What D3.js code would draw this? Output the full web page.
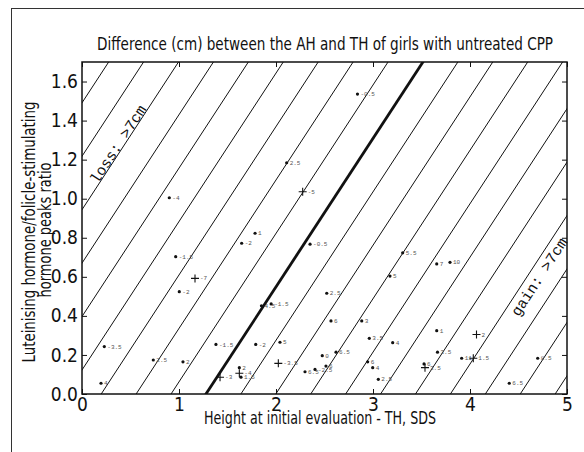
<!DOCTYPE html>
<html>
<head>
<meta charset="utf-8">
<script src="https://cdn.jsdelivr.net/npm/d3@7"></script>
<style>
  body { margin: 0; background: #fff; }
  svg { display: block; }
  .narrow { font-family: 'Liberation Sans Narrow', 'DejaVu Sans', sans-serif; font-stretch: condensed; }
</style>
</head>
<body>
<svg id="chart"></svg>
<script>
// data
let heightSDS = [0.90, 2.11, 2.275, 2.84, 1.784, 1.646, 2.351, 0.966, 1.165, 1.003,
  1.85, 1.95, 2.523, 0.23, 0.735, 1.041, 1.381, 1.791, 2.041, 2.024,
  1.622, 1.622, 1.639, 1.423, 0.196, 2.477, 2.619, 2.299, 2.402, 2.515,
  3.306, 3.657, 3.794, 3.175, 2.567, 2.884, 3.657, 4.067, 2.962, 3.203,
  2.945, 2.997, 3.665, 3.914, 4.034, 4.698, 3.526, 3.536, 3.055, 4.405]
let lhRatio = [1.005, 1.184, 1.036, 1.536, 0.823, 0.772, 0.767, 0.703, 0.592, 0.524,
  0.452, 0.461, 0.516, 0.243, 0.174, 0.165, 0.254, 0.254, 0.265, 0.157,
  0.135, 0.106, 0.086, 0.086, 0.055, 0.196, 0.214, 0.114, 0.126, 0.143,
  0.723, 0.666, 0.674, 0.604, 0.374, 0.374, 0.324, 0.305, 0.285, 0.263,
  0.165, 0.135, 0.214, 0.183, 0.183, 0.183, 0.154, 0.135, 0.075, 0.055]
let diffCm = ['-4', '2.5', '-5', '-0.5', '1', '-2', '-0.5', '-1.5', '-7', '-2',
  '4.5', '-1.5', '2.5', '-3.5', '2.5', '2', '-1.5', '-2', '5', '-3.5',
  '2', '-4', '1.5', '-3', '4', '0', '6.5', '6.5', '-2.5', '6',
  '5.5', '7', '10', '5', '6', '3', '1', '2', '3.5', '4',
  '6', '4', '3.5', '11', '1.5', '8.5', '6', '3.5', '2.5', '6.5']
// '+' marks, everything else is a dot
let crossIdx = [2, 8, 19, 21, 23, 37, 44, 47]

// contour lines of equal AH-TH difference (cm), 0 is the bold one
let contourCm = [-9, -8, -7, -6, -5, -4, -3, -2, -1, 0, 1, 2, 3, 4, 5, 6, 7, 8, 9, 10]
let zeroAt = 1.278   // x where the 0 cm line meets ratio 0
let stepPerCm = 0.36 // x shift between neighbouring lines
let slope = 0.76     // ratio per SDS

let xTicks = [0, 1, 2, 3, 4, 5]
let yTicks = [0, 0.2, 0.4, 0.6, 0.8, 1.0, 1.2, 1.4, 1.6]

let W = 584, H = 452
let svg = d3.select('#chart').attr('width', W).attr('height', H)

// outer figure border
svg.append('rect')
  .attr('x', 11.5).attr('y', 8.5).attr('width', 640).attr('height', 640)
  .attr('fill', 'none').attr('stroke', '#333').attr('stroke-width', 1)

let x = d3.scaleLinear().domain([0, 5]).range([82, 567])
let y = d3.scaleLinear().domain([0, 1.7]).range([394, 62])

svg.append('clipPath').attr('id', 'plot-clip')
  .append('rect')
  .attr('x', x(0)).attr('y', y(1.7))
  .attr('width', x(5) - x(0)).attr('height', y(0) - y(1.7))

// diagonal lines
let lines = svg.append('g').attr('clip-path', 'url(#plot-clip)')
lines.selectAll('line')
  .data(contourCm)
  .enter()
  .append('line')
  .attr('x1', d => x(zeroAt + stepPerCm * d - 0.2 / slope))
  .attr('y1', y(-0.2))
  .attr('x2', d => x(zeroAt + stepPerCm * d + 1.9 / slope))
  .attr('y2', y(1.9))
  .attr('stroke', '#111')
  .attr('stroke-width', d => d === 0 ? 2.8 : 1)

// rotated region labels
let angle = -Math.atan2(y(0) - y(slope), x(1) - x(0)) * 180 / Math.PI
let regionLabels = [
  { t: 'loss: >7cm', px: 0.37, py: 1.28 },
  { t: 'gain: >7cm', px: 4.71, py: 0.60 },
]
svg.selectAll('.region')
  .data(regionLabels)
  .enter()
  .append('text')
  .attr('class', 'region')
  .attr('transform', d => `translate(${x(d.px)},${y(d.py)}) rotate(${angle})`)
  .attr('text-anchor', 'middle')
  .attr('dy', '0.35em')
  .attr('font-family', "'Liberation Mono', 'DejaVu Sans Mono', monospace")
  .attr('font-size', 15)
  .attr('fill', '#111')
  .text(d => d.t)

// points
let pts = heightSDS.map((h, i) => ({ h: h, r: lhRatio[i], lab: diffCm[i], cross: crossIdx.includes(i) }))
let pg = svg.append('g')
let node = pg.selectAll('g.pt')
  .data(pts)
  .enter()
  .append('g')
  .attr('class', 'pt')
  .attr('transform', d => `translate(${x(d.h)},${y(d.r)})`)

node.filter(d => !d.cross).append('circle')
  .attr('r', 1.6).attr('fill', '#111')
node.filter(d => d.cross).append('path')
  .attr('d', 'M-4,0H4M0,-4V4')
  .attr('stroke', '#111').attr('stroke-width', 1.1)
node.append('text')
  .attr('x', d => d.cross ? 5 : 3)
  .attr('dy', '0.35em')
  .attr('font-family', "'Liberation Mono', 'DejaVu Sans Mono', monospace")
  .attr('font-size', 6)
  .attr('fill', '#555')
  .text(d => d.lab)

// axes, ticks pointing inward
let axisFont = g => g.selectAll('text')
  .attr('class', 'narrow')
  .attr('font-family', null)
  .attr('font-size', 19)
  .attr('fill', '#111')

let bottom = svg.append('g').attr('transform', `translate(0,${y(0)})`)
  .call(d3.axisBottom(x).tickValues(xTicks).tickSize(-5).tickPadding(3).tickFormat(d3.format('d')))
bottom.call(axisFont)
let left = svg.append('g').attr('transform', `translate(${x(0)},0)`)
  .call(d3.axisLeft(y).tickValues(yTicks).tickSize(-5).tickPadding(4).tickFormat(d3.format('.1f')))
left.call(axisFont)
svg.append('g').attr('transform', `translate(0,${y(1.7)})`)
  .call(d3.axisTop(x).tickValues(xTicks).tickSize(-5).tickFormat(''))
svg.append('g').attr('transform', `translate(${x(5)},0)`)
  .call(d3.axisRight(y).tickValues(yTicks).tickSize(-5).tickFormat(''))
svg.selectAll('.domain').remove()
svg.selectAll('.tick line').attr('stroke', '#111')

// frame
svg.append('rect')
  .attr('x', x(0)).attr('y', y(1.7))
  .attr('width', x(5) - x(0)).attr('height', y(0) - y(1.7))
  .attr('fill', 'none').attr('stroke', '#111').attr('stroke-width', 1.5)

// titles
svg.append('text')
  .attr('class', 'narrow')
  .attr('x', 325).attr('y', 50)
  .attr('text-anchor', 'middle')
  .attr('font-size', 17)
  .attr('textLength', 456).attr('lengthAdjust', 'spacingAndGlyphs')
  .attr('fill', '#111')
  .text('Difference (cm) between the AH and TH of girls with untreated CPP')

svg.append('text')
  .attr('class', 'narrow')
  .attr('x', 320).attr('y', 424)
  .attr('text-anchor', 'middle')
  .attr('font-size', 17)
  .attr('textLength', 232).attr('lengthAdjust', 'spacingAndGlyphs')
  .attr('fill', '#111')
  .text('Height at initial evaluation - TH, SDS')

let yLab = svg.append('g').attr('transform', 'translate(0,232) rotate(-90)')
yLab.append('text')
  .attr('class', 'narrow')
  .attr('x', 0).attr('y', 35)
  .attr('text-anchor', 'middle')
  .attr('font-size', 17)
  .attr('textLength', 261).attr('lengthAdjust', 'spacingAndGlyphs')
  .attr('fill', '#111')
  .text('Luteinising hormone/folicle-stimulating')
yLab.append('text')
  .attr('class', 'narrow')
  .attr('x', 2).attr('y', 51)
  .attr('text-anchor', 'middle')
  .attr('font-size', 17)
  .attr('textLength', 135).attr('lengthAdjust', 'spacingAndGlyphs')
  .attr('fill', '#111')
  .text('hormone peaks ratio')
</script>
</body>
</html>
